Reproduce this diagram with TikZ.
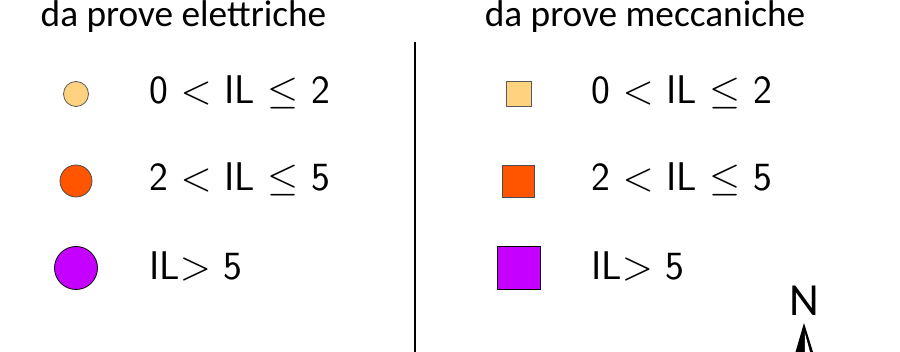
\documentclass[tikz,border=0pt]{standalone}
\usepackage{fontspec}
\setmainfont{Carlito}
\setsansfont{Latin Modern Sans}
\definecolor{cpale}{HTML}{FFD27F}
\definecolor{corange}{HTML}{FF5500}
\definecolor{cpurple}{HTML}{C500FF}
\font\bigmi=cmmi10 at 40pt
\font\bigsy=cmsy10 at 40pt
\newcommand{\rellt}{{\bigmi\char"3C}}
\newcommand{\relgt}{{\bigmi\char"3E}}
\newcommand{\relle}{{\bigsy\char"14}}
\tikzset{
  heading/.style={inner sep=0pt,font=\fontsize{37.3}{40}\selectfont},
  leglabel/.style={anchor=west,inner sep=0pt,font=\fontsize{40}{42}\selectfont\sffamily},
  mark1/.style={draw=black!65,line width=0.8pt,fill=cpale},
  mark2/.style={draw=black!70,line width=0.8pt,fill=corange},
  mark3/.style={draw=black,line width=0.8pt,fill=cpurple},
}
\newcommand{\lea}{0 \rellt{} IL \relle{} 2}
\newcommand{\leb}{2 \rellt{} IL \relle{} 5}
\newcommand{\lec}{IL\relgt{} 5}
\begin{document}
\begin{tikzpicture}[x=1pt,y=-1pt]
\useasboundingbox (0,0) rectangle (900,352);
\node[heading] (h1) at (183.5,17) {da prove elettriche};
\node[heading] (h2) at (645,17) {da prove meccaniche};
\coordinate (vt) at (415,42);
\coordinate (vb) at (415,352);
\draw[line width=2pt] (vt) -- (vb);
\node[circle,mark1,minimum size=25pt,inner sep=0pt] (c1) at (76,94) {};
\node[circle,mark2,minimum size=32pt,inner sep=0pt] (c2) at (76,181) {};
\node[circle,mark3,minimum size=43pt,inner sep=0pt] (c3) at (76,268) {};
\node[rectangle,mark1,minimum size=25pt,inner sep=0pt] (s1) at (518.5,94) {};
\node[rectangle,mark2,minimum size=32pt,inner sep=0pt] (s2) at (518.5,181) {};
\node[rectangle,mark3,minimum size=43pt,inner sep=0pt] (s3) at (518.5,268) {};
\node[leglabel] (l1) at (149,92) {\lea};
\node[leglabel] (l2) at (149,179) {\leb};
\node[leglabel] (l3) at (149,266) {\lec};
\node[leglabel] (r1) at (591,92) {\lea};
\node[leglabel] (r2) at (591,179) {\leb};
\node[leglabel] (r3) at (591,266) {\lec};
\node[inner sep=0pt,font=\fontsize{46}{48}\selectfont] (n) at (804.5,300.5) {N};
\fill (804,323) -- (795.5,352) -- (813,352) -- cycle;
\fill[white] (804.8,333) -- (804.8,352) -- (810,352) -- cycle;
\end{tikzpicture}
\end{document}
